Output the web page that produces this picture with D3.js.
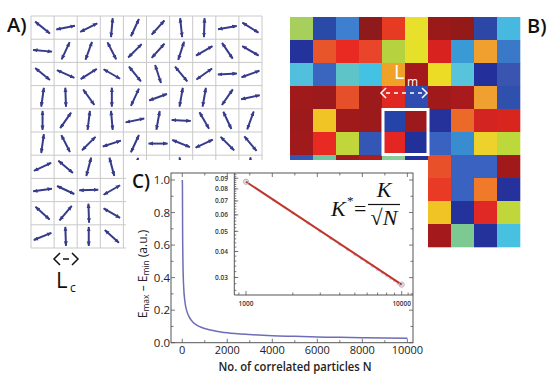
<!DOCTYPE html>
<html><head><meta charset="utf-8">
<script src="https://cdn.jsdelivr.net/npm/d3@7"></script>
<style>html,body{margin:0;padding:0;background:#fff;overflow:hidden}</style>
</head><body>
<script>
// ---------- DATA ----------
// Panel A: arrow orientation per cell (degrees, screen coords), null = hidden
const arrowAngles = [
  [39, -11, -27, 95, -65, -48, 84, 92, -10, 32],
  [5, -65, -70, 63, -45, -48, -72, -30, 56, 30],
  [39, 24, -32, 30, 51, 72, 50, -35, -3, -20],
  [-82, 88, 54, 90, -65, -20, -80, -80, -55, -12],
  [90, -55, -83, 85, -12, -80, 3, 60, 65, -70],
  [-82, 63, -45, -18, -65, 0, 22, -25, 45, 50],
  [-25, 40, -75, 75, -70, null, 80, null, null, 90],
  [-8, 25, -2, -30, null, null, null, null, null, null],
  [42, -50, 88, 30, null, null, null, null, null, null],
  [-22, 88, 90, 42, null, null, null, null, null, null]
];
// Panel B: cell colours, null = hidden
const cellColors = [
  ["#a6cf5c","#2a4aa8","#3f7fcf","#8e1a1c","#e63a22","#e8e02a","#9a1a1a","#941a1a","#2d47a6","#47b8e0"],
  ["#24339c","#e8552a","#e82a22","#e8452a","#b7d23f","#e5e02a","#d8221f","#3a9ad6","#f0a02e","#3a78c8"],
  ["#52c0dc","#3a66c0","#5fc4c8","#44c2e4","#f0a228","#a41a1c","#ecdc26","#58c4dc","#23309c","#3a55b0"],
  ["#a01a1c","#9c1a1c","#e5502a","#9c1a1c","#e02822","#2f4cb0","#a01a1c","#a81a1c","#f0a030","#3050ae"],
  ["#9c1a1c","#f0c424","#a01a1c","#9c1a1c","#2444aa","#9c1a1c","#25329c","#ec6a28","#d42422","#d8261f"],
  ["#a01a1c","#e82a22","#c0d63a","#3456b4","#e42622","#22309a","#3a62c0","#3a8cd0","#ecd22a","#bcd83a"],
  ["#3456b4","#6cc6a0","#9e1a1c","#b01c1c","#88cc9a","#24309c","#e8502a","#3a62c0","#3a62c0","#a01a1c"],
  [null,null,null,null,null,null,"#e83a24","#3a62c0","#f07a2a","#25329c"],
  [null,null,null,null,null,null,"#f0c424","#24329c","#e02824","#c0d63a"],
  [null,null,null,null,null,null,"#a41a1c","#7cca92","#24329c","#48c0e0"]
];
// Panel C main curve
const curveN = [3, 8, 15, 30, 60, 120, 190, 300, 500, 750, 1000, 1500, 2000, 3000, 4000, 5000, 6000, 7000, 8000, 9000, 10000];
const curveE = [1.0, 0.96, 0.71, 0.50, 0.35, 0.25, 0.20, 0.16, 0.123, 0.10, 0.087, 0.071, 0.061, 0.050, 0.043, 0.039, 0.035, 0.033, 0.031, 0.029, 0.028];
const xTicks = [0, 2000, 4000, 6000, 8000, 10000];
const xTickLabels = ["0", "2000", "4000", "6000", "8000", "10000"];
const yTicks = [0, 0.2, 0.4, 0.6, 0.8, 1.0];
const yTickLabels = ["0.0", "0.2", "0.4", "0.6", "0.8", "1.0"];
// Inset (log-log)
const insetN = [1000,1500,2000,2500,3000,3500,4000,4500,5000,5500,6000,6500,7000,7500,8000,8500,9000,9500,10000];
const insetE = [0.0866,0.0707,0.0612,0.0548,0.0500,0.0463,0.0433,0.0408,0.0387,0.0369,0.0354,0.0340,0.0327,0.0316,0.0306,0.0297,0.0289,0.0281,0.0277];
const fitN = [1000, 10000];
const fitE = [0.0866, 0.0277];
const insetYTicks = [0.03, 0.04, 0.05, 0.06, 0.07, 0.08, 0.09];
const insetYTickLabels = ["0.03", "0.04", "0.05", "0.06", "0.07", "0.08", "0.09"];
const insetXTicks = [1000, 10000];
const insetXTickLabels = ["1000", "10000"];

// ---------- DRAW ----------
const svg = d3.select("body").append("svg").attr("width", 550).attr("height", 387)
  .style("font-family", "'Open Sans', sans-serif");
const defs = svg.append("defs");
defs.append("marker").attr("id", "ah").attr("viewBox", "0 0 10 10")
  .attr("refX", 9).attr("refY", 5).attr("markerWidth", 5).attr("markerHeight", 5)
  .attr("markerUnits", "userSpaceOnUse").attr("orient", "auto-start-reverse")
  .append("path").attr("d", "M0,1 L10,5 L0,9 Z").attr("fill", "#363b8a");

// Panel A
const ax = d3.scaleBand().domain(d3.range(10)).range([31, 262]).padding(0);
const ay = d3.scaleBand().domain(d3.range(10)).range([16, 248]).padding(0);
const gA = svg.append("g");
for (let i = 0; i <= 10; i++) {
  const xx = 31 + i * ax.bandwidth();
  gA.append("line").attr("x1", xx).attr("x2", xx).attr("y1", 16).attr("y2", 248).attr("stroke", "#c9c9c9").attr("stroke-width", 1);
  const yy = 16 + i * ay.bandwidth();
  gA.append("line").attr("x1", 31).attr("x2", 262).attr("y1", yy).attr("y2", yy).attr("stroke", "#c9c9c9").attr("stroke-width", 1);
}
arrowAngles.forEach((row, r) => row.forEach((a, c) => {
  if (a === null) return;
  const cx = ax(c) + ax.bandwidth() / 2, cy = ay(r) + ay.bandwidth() / 2;
  const rad = a * Math.PI / 180, len = 9.5;
  gA.append("line")
    .attr("x1", cx - len * Math.cos(rad)).attr("y1", cy - len * Math.sin(rad))
    .attr("x2", cx + len * Math.cos(rad)).attr("y2", cy + len * Math.sin(rad))
    .attr("stroke", "#363b8a").attr("stroke-width", 2)
    .attr("marker-start", "url(#ah)").attr("marker-end", "url(#ah)");
}));

// Panel B
const bx = d3.scaleBand().domain(d3.range(10)).range([290, 520]);
const by = d3.scaleBand().domain(d3.range(10)).range([17, 247]);
const gB = svg.append("g");
cellColors.forEach((row, r) => row.forEach((col, c) => {
  if (!col) return;
  gB.append("rect").attr("x", bx(c)).attr("y", by(r))
    .attr("width", bx.bandwidth() + 0.3).attr("height", by.bandwidth() + 0.3).attr("fill", col);
}));
gB.append("rect").attr("x", bx(4) + 1).attr("y", by(4) + 0.5)
  .attr("width", bx.bandwidth() * 2 - 1).attr("height", by.bandwidth() * 2 - 1)
  .attr("fill", "none").attr("stroke", "#fff").attr("stroke-width", 3);
// L_m
gB.append("text").attr("x", 394).attr("y", 79).attr("fill", "#fff").attr("font-size", 20).text("L");
gB.append("text").attr("x", 407).attr("y", 86).attr("fill", "#fff").attr("font-size", 12).text("m");
gB.append("path").attr("d", "M386,88 L381,93 L386,98 M422,88 L427,93 L422,98")
  .attr("fill", "none").attr("stroke", "#fff").attr("stroke-width", 1.5);
gB.append("line").attr("x1", 384).attr("x2", 424).attr("y1", 93).attr("y2", 93)
  .attr("stroke", "#fff").attr("stroke-width", 1.5).attr("stroke-dasharray", "4,4").attr("stroke-dashoffset", -2);

// Panel labels
svg.append("text").attr("x", 7).attr("y", 32).attr("font-size", 20).attr("font-weight", 600).attr("fill", "#111").text("A)");
svg.append("text").attr("x", 527).attr("y", 33).attr("font-size", 20).attr("font-weight", 600).attr("fill", "#111").text("B)");
// L_c
svg.append("path").attr("d", "M60,253 L54,259 L60,265 M72,253 L78,259 L72,265 M63,259 L69,259")
  .attr("fill", "none").attr("stroke", "#111").attr("stroke-width", 1.5);
svg.append("text").attr("x", 56).attr("y", 288).attr("font-size", 22).attr("fill", "#111").text("L");
svg.append("text").attr("x", 70).attr("y", 292).attr("font-size", 12).attr("fill", "#111").text("c");

// Panel C
svg.append("rect").attr("x", 126).attr("y", 160).attr("width", 302).attr("height", 227).attr("fill", "#fff");
svg.append("text").attr("x", 132).attr("y", 188).attr("font-size", 19).attr("font-weight", 600).attr("fill", "#111").text("C)");

const L = 171, R = 413, T = 173, B = 342.7;
const x = d3.scaleLinear().domain([-500, 10250]).range([L, R]);
const y = d3.scaleLinear().domain([0, 1.043]).range([B, T]);
const gC = svg.append("g");
const axisCol = "#555";
const tick = (x1, y1, x2, y2) => gC.append("line").attr("x1", x1).attr("y1", y1).attr("x2", x2).attr("y2", y2).attr("stroke", axisCol).attr("stroke-width", 0.8);
xTicks.forEach(v => { tick(x(v), B, x(v), B - 4); tick(x(v), T, x(v), T + 4); });
d3.range(1000, 10001, 2000).forEach(v => { tick(x(v), B, x(v), B - 2.5); tick(x(v), T, x(v), T + 2.5); });
yTicks.forEach(v => { tick(L, y(v), L + 4, y(v)); tick(R, y(v), R - 4, y(v)); });
d3.range(0.1, 1.0, 0.2).forEach(v => { tick(L, y(v), L + 2.5, y(v)); tick(R, y(v), R - 2.5, y(v)); });

xTicks.forEach((v, i) => gC.append("text").attr("x", x(v)).attr("y", 353.5).attr("text-anchor", "middle")
  .attr("font-size", 11).attr("fill", "#222").text(xTickLabels[i]));
yTicks.forEach((v, i) => gC.append("text").attr("x", 170).attr("y", y(v)).attr("dy", "0.36em").attr("text-anchor", "end")
  .attr("font-size", 11.5).attr("fill", "#222").text(yTickLabels[i]));

gC.append("text").attr("x", 295).attr("y", 371).attr("text-anchor", "middle").attr("font-size", 12.5)
  .attr("font-weight", 600).attr("fill", "#222").attr("textLength", 153).attr("lengthAdjust", "spacingAndGlyphs")
  .text("No. of correlated particles N");
const yl = gC.append("text").attr("transform", "translate(146.5,274) rotate(-90)").attr("text-anchor", "middle")
  .attr("font-size", 12).attr("fill", "#222");
yl.append("tspan").text("E");
yl.append("tspan").attr("font-size", 8.5).attr("dy", 2.5).text("max");
yl.append("tspan").attr("dy", -2.5).text(" – E");
yl.append("tspan").attr("font-size", 8.5).attr("dy", 2.5).text("min");
yl.append("tspan").attr("dy", -2.5).text(" (a.u.)");

const curve = curveN.map((n, i) => [n, curveE[i]]);
gC.append("path").attr("d", d3.line().x(d => x(d[0])).y(d => y(d[1])).curve(d3.curveMonotoneX)(curve))
  .attr("fill", "none").attr("stroke", "#6d6db8").attr("stroke-width", 1.5);

// Inset
const IL = 234.3, IB = 295;
const ix = d3.scaleLog().domain([841, 11820]).range([IL, R]);
const iy = d3.scaleLog().domain([0.0247, 0.0954]).range([IB, T]);
gC.append("rect").attr("x", IL).attr("y", T).attr("width", R - IL).attr("height", IB - T).attr("fill", "#fff");
gC.append("path").attr("d", `M${IL},${T} V${IB} H${R}`).attr("fill", "none").attr("stroke", axisCol).attr("stroke-width", 1);
yTicks.forEach(v => { if (y(v) < IB) tick(R, y(v), R - 4, y(v)); });
d3.range(0.1, 1.0, 0.2).forEach(v => { if (y(v) < IB) tick(R, y(v), R - 2.5, y(v)); });
xTicks.forEach(v => { if (x(v) > IL) tick(x(v), T, x(v), T + 4); });
d3.range(1000, 10001, 2000).forEach(v => { if (x(v) > IL) tick(x(v), T, x(v), T + 2.5); });
d3.range(0.026, 0.0945, 0.002).forEach(v => tick(IL, iy(v), IL + 2, iy(v)));
insetYTicks.forEach((v, i) => {
  tick(IL, iy(v), IL + 4, iy(v));
  gC.append("text").attr("x", 228).attr("y", iy(v)).attr("dy", "0.35em").attr("text-anchor", "end")
    .attr("font-size", 6.5).attr("font-weight", 600).attr("fill", "#333").text(insetYTickLabels[i]);
});
d3.range(2000, 10000, 1000).forEach(v => tick(ix(v), IB, ix(v), IB - 2.5));
[900, 11000].forEach(v => tick(ix(v), IB, ix(v), IB - 2.5));
insetXTicks.forEach((v, i) => {
  tick(ix(v), IB, ix(v), IB - 4);
  gC.append("text").attr("x", ix(v)).attr("y", 306).attr("text-anchor", "middle")
    .attr("font-size", 6.5).attr("font-weight", 600).attr("fill", "#333").text(insetXTickLabels[i]);
});
gC.selectAll(".ip").data(insetN.map((n, i) => [n, insetE[i]])).enter().append("circle")
  .attr("cx", d => ix(d[0])).attr("cy", d => iy(d[1])).attr("r", 1.8)
  .attr("fill", "#d9d6ef").attr("stroke", "none");
gC.append("path").attr("d", d3.line().x(d => ix(d[0])).y(d => iy(d[1]))(fitN.map((n, i) => [n, fitE[i]])))
  .attr("stroke", "#c0352b").attr("stroke-width", 2).attr("fill", "none");
fitN.forEach((n, i) => gC.append("circle").attr("cx", ix(n)).attr("cy", iy(fitE[i])).attr("r", 2.6)
  .attr("fill", "none").attr("stroke", "#b0b0b0").attr("stroke-width", 1));

gC.append("rect").attr("x", L).attr("y", T).attr("width", R - L).attr("height", B - T)
  .attr("fill", "none").attr("stroke", axisCol).attr("stroke-width", 1);

// Formula
const fs = "'Liberation Serif', 'Times New Roman', serif";
const gF = gC.append("g").style("font-family", fs).attr("fill", "#111");
gF.append("text").attr("x", 331).attr("y", 216).attr("font-size", 22).attr("font-style", "italic").text("K");
gF.append("text").attr("x", 347).attr("y", 205).attr("font-size", 13).text("*");
gF.append("text").attr("x", 354).attr("y", 216).attr("font-size", 22).text("=");
gF.append("text").attr("x", 384).attr("y", 197).attr("text-anchor", "middle").attr("font-size", 22).attr("font-style", "italic").text("K");
gF.append("line").attr("x1", 368).attr("x2", 400).attr("y1", 204.5).attr("y2", 204.5).attr("stroke", "#111").attr("stroke-width", 1.2);
const den = gF.append("text").attr("x", 384).attr("y", 225).attr("text-anchor", "middle").attr("font-size", 22);
den.append("tspan").text("√");
den.append("tspan").attr("font-style", "italic").text("N");
</script>
</body></html>
